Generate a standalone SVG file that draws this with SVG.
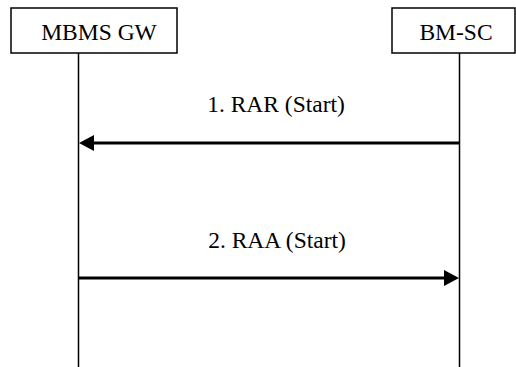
<svg xmlns="http://www.w3.org/2000/svg" width="516" height="367" viewBox="0 0 516 367">
<style>
.box{fill:#fff;stroke:#000;stroke-width:1.5}
.life{stroke:#000;stroke-width:1.5}
.msg{stroke:#000;stroke-width:3}
.head{fill:#000}
text{font-family:'Liberation Serif','Times New Roman',Times,serif;font-size:23.5px;fill:#000}
</style>
<rect width="516" height="367" fill="#fff"/>
<g id="mbmsgw">
<rect class="box" x="11" y="8" width="166" height="45"/>
<text x="99" y="40" text-anchor="middle">MBMS GW</text>
<line class="life" x1="78.5" y1="53" x2="78.5" y2="367"/>
</g>
<g id="bmsc">
<rect class="box" x="392" y="8" width="123" height="45"/>
<text x="456" y="40" text-anchor="middle">BM-SC</text>
<line class="life" x1="459.5" y1="53" x2="459.5" y2="367"/>
</g>
<g id="connectors">
<g id="msg1">
<line class="msg" x1="459.5" y1="143" x2="90" y2="143"/>
<polygon class="head" points="79,143 94,135 94,151"/>
<text x="276" y="112" text-anchor="middle">1. RAR (Start)</text>
</g>
<g id="msg2">
<line class="msg" x1="78.5" y1="278" x2="446" y2="278"/>
<polygon class="head" points="459,278 444,270 444,286"/>
<text x="277" y="248" text-anchor="middle">2. RAA (Start)</text>
</g>
</g>
</svg>
